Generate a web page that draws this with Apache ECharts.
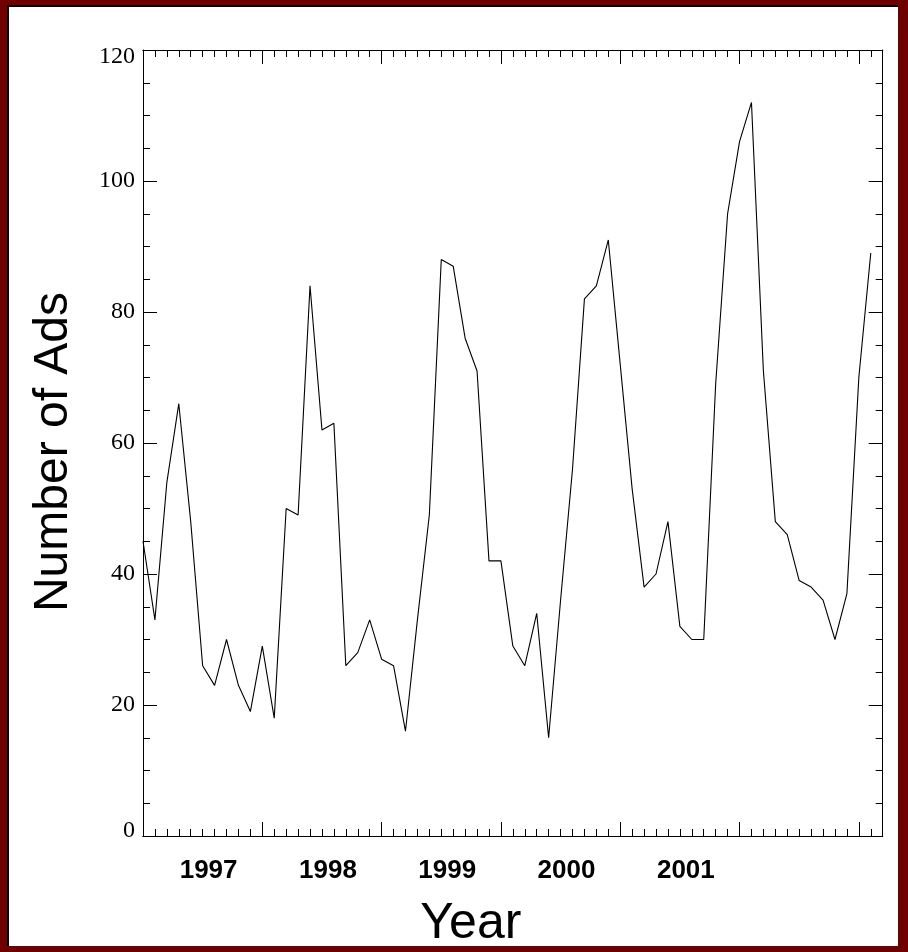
<!DOCTYPE html>
<html><head><meta charset="utf-8">
<script src="https://cdn.jsdelivr.net/npm/echarts@6/dist/echarts.min.js"></script>
<style>
html,body{margin:0;padding:0;width:908px;height:952px;overflow:hidden;background:#6e0000;}
#frame{position:absolute;left:7px;top:5px;width:889px;height:939px;background:#fff;border-left:2px solid #000;border-top:2px solid #000;}
#chart{position:absolute;left:0;top:0;width:908px;height:952px;}
</style></head><body>
<div id="frame"></div>
<div id="chart"></div>
<script>
// Tick labels along the year axis
const yearLabels = ['1997', '1998', '1999', '2000', '2001'];
// Number of ads per period (10 periods per year)
const adsCount = [
  45, 33, 54, 66, 48, 26, 23, 30, 23, 19,
  29, 18, 50, 49, 84, 62, 63, 26, 28, 33,
  27, 26, 16, 33, 49, 88, 87, 76, 71, 42,
  42, 29, 26, 34, 15, 36, 56, 82, 84, 91,
  72, 53, 38, 40, 48, 32, 30, 30, 69, 95,
  106, 112, 71, 48, 46, 39, 38, 36, 30, 37,
  70, 89
];
const periodsPerYear = 10;
const xSpan = 62;
const yMin = 0, yMax = 120, yStep = 20;

const points = adsCount.map((v, i) => [i, v]);
const yearCats = Array.from({length: xSpan}, (_, i) =>
  (i % periodsPerYear === 5 && yearLabels[(i - 5) / periodsPerYear]) || '');

const black = '#000';
function xAx(pos, interval, len) {
  return {
    type: 'value', position: pos, min: 0, max: xSpan, interval: interval,
    axisLine: {show: true, onZero: false, lineStyle: {color: black, width: 1}},
    axisTick: {show: true, inside: true, length: len, lineStyle: {color: black, width: 1}},
    axisLabel: {show: false}, splitLine: {show: false}
  };
}
function yAx(pos, showLabel) {
  return {
    type: 'value', position: pos, min: yMin, max: yMax, interval: yStep,
    axisLine: {show: true, onZero: false, lineStyle: {color: black, width: 1}},
    axisTick: {show: true, inside: true, length: 14, lineStyle: {color: black, width: 1}},
    minorTick: {show: true, splitNumber: 4, length: 7, lineStyle: {color: black, width: 1}},
    splitLine: {show: false}, minorSplitLine: {show: false},
    axisLabel: showLabel ? {
      show: true, margin: 8, color: black,
      fontFamily: 'Liberation Serif', fontSize: 24,
      formatter: v => v === yMin ? '{lo|' + v + '}' : v === yMax ? '{hi|' + v + '}' : '{n|' + v + '}',
      rich: {
        lo: {fontFamily: 'Liberation Serif', fontSize: 24, color: black, padding: [0, 0, 10, 0]},
        hi: {fontFamily: 'Liberation Serif', fontSize: 24, color: black, padding: [14, 0, 0, 0]},
        n: {fontFamily: 'Liberation Serif', fontSize: 24, color: black}
      }
    } : {show: false}
  };
}

const yLeft = yAx('left', true);
yLeft.name = 'Number of Ads';
yLeft.nameLocation = 'middle';
yLeft.nameRotate = 90;
yLeft.nameGap = 65;
yLeft.nameTextStyle = {fontFamily: 'Liberation Sans', fontSize: 48, color: black, padding: [0, 18, 0, 0]};

const chart = echarts.init(document.getElementById('chart'), null, {renderer: 'canvas'});
chart.setOption({
  animation: false,
  backgroundColor: 'transparent',
  grid: {left: 143, top: 50, right: 25.3, bottom: 116, containLabel: false, outerBoundsMode: 'none'},
  xAxis: [
    xAx('bottom', periodsPerYear, 14),
    xAx('bottom', 1, 7),
    xAx('top', periodsPerYear, 14),
    xAx('top', 1, 7),
    {
      type: 'category', position: 'bottom', data: yearCats, boundaryGap: true,
      axisLine: {show: false}, axisTick: {show: false}, splitLine: {show: false},
      axisLabel: {show: true, interval: 0, margin: 22, color: black,
        fontFamily: 'Liberation Sans', fontWeight: 'bold', fontSize: 26},
      name: 'Year', nameLocation: 'middle', nameGap: 63,
      nameTextStyle: {fontFamily: 'Liberation Sans', fontSize: 50, color: black, padding: [0, 84, 0, 0]}
    }
  ],
  yAxis: [yLeft, yAx('right', false)],
  series: [{
    type: 'line', xAxisIndex: 0, yAxisIndex: 0, data: points,
    showSymbol: false, symbol: 'none',
    lineStyle: {color: black, width: 1.1}, z: 3
  }]
});
</script>
</body></html>
